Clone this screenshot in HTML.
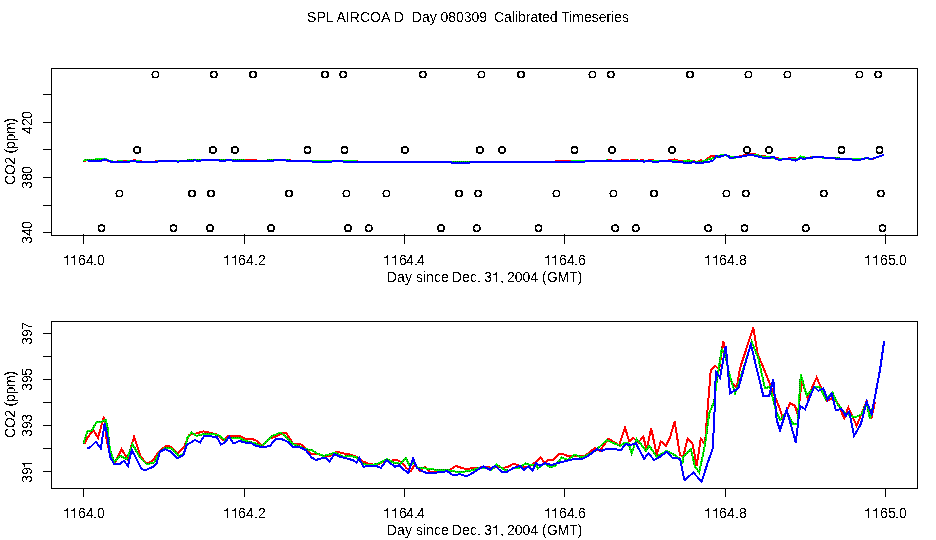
<!DOCTYPE html>
<html><head><meta charset="utf-8"><style>
html,body{margin:0;padding:0;background:#fff;width:936px;height:540px;overflow:hidden}
svg{display:block}
text{font-family:"Liberation Sans",sans-serif;font-size:14px;fill:#000;white-space:pre}
</style></head><body>
<svg width="936" height="540" viewBox="0 0 936 540" shape-rendering="crispEdges">
<defs><pattern id="gp" patternUnits="userSpaceOnUse" x="0" y="0" width="2" height="2"><rect x="0" y="0" width="2" height="2" fill="#00ff00"/><rect x="1" y="1" width="1" height="1" fill="#006000"/></pattern><filter id="th" x="0" y="0" width="936" height="540" filterUnits="userSpaceOnUse" color-interpolation-filters="sRGB"><feComponentTransfer><feFuncA type="discrete" tableValues="0 1"/></feComponentTransfer></filter></defs>
<rect x="51.5" y="68.5" width="866" height="167" fill="none" stroke="#000" stroke-width="1"/>
<line x1="43" y1="94.5" x2="51" y2="94.5" stroke="#000"/>
<line x1="43" y1="122.5" x2="51" y2="122.5" stroke="#000"/>
<line x1="43" y1="149.5" x2="51" y2="149.5" stroke="#000"/>
<line x1="43" y1="177.5" x2="51" y2="177.5" stroke="#000"/>
<line x1="43" y1="205.5" x2="51" y2="205.5" stroke="#000"/>
<line x1="43" y1="232.5" x2="51" y2="232.5" stroke="#000"/>
<line x1="83.5" y1="234" x2="83.5" y2="244" stroke="#000"/>
<path d="M67,255h1v10h-1z M66,256h1v1h-1z M64,257h3v1h-3z" fill="#000" shape-rendering="crispEdges"/>
<path d="M74,255h1v10h-1z M73,256h1v1h-1z M71,257h3v1h-3z" fill="#000" shape-rendering="crispEdges"/>
<line x1="244.5" y1="234" x2="244.5" y2="244" stroke="#000"/>
<path d="M227,255h1v10h-1z M226,256h1v1h-1z M224,257h3v1h-3z" fill="#000" shape-rendering="crispEdges"/>
<path d="M235,255h1v10h-1z M234,256h1v1h-1z M232,257h3v1h-3z" fill="#000" shape-rendering="crispEdges"/>
<line x1="404.5" y1="234" x2="404.5" y2="244" stroke="#000"/>
<path d="M387,255h1v10h-1z M386,256h1v1h-1z M384,257h3v1h-3z" fill="#000" shape-rendering="crispEdges"/>
<path d="M395,255h1v10h-1z M394,256h1v1h-1z M392,257h3v1h-3z" fill="#000" shape-rendering="crispEdges"/>
<line x1="564.5" y1="234" x2="564.5" y2="244" stroke="#000"/>
<path d="M548,255h1v10h-1z M547,256h1v1h-1z M545,257h3v1h-3z" fill="#000" shape-rendering="crispEdges"/>
<path d="M555,255h1v10h-1z M554,256h1v1h-1z M552,257h3v1h-3z" fill="#000" shape-rendering="crispEdges"/>
<line x1="725.5" y1="234" x2="725.5" y2="244" stroke="#000"/>
<path d="M708,255h1v10h-1z M707,256h1v1h-1z M705,257h3v1h-3z" fill="#000" shape-rendering="crispEdges"/>
<path d="M716,255h1v10h-1z M715,256h1v1h-1z M713,257h3v1h-3z" fill="#000" shape-rendering="crispEdges"/>
<line x1="885.5" y1="234" x2="885.5" y2="244" stroke="#000"/>
<path d="M868,255h1v10h-1z M867,256h1v1h-1z M865,257h3v1h-3z" fill="#000" shape-rendering="crispEdges"/>
<path d="M876,255h1v10h-1z M875,256h1v1h-1z M873,257h3v1h-3z" fill="#000" shape-rendering="crispEdges"/>
<path d="M496,272h1v10h-1z M495,273h1v1h-1z M493,274h3v1h-3z" fill="#000"/>
<rect x="51.5" y="321.5" width="866" height="167" fill="none" stroke="#000" stroke-width="1"/>
<line x1="43" y1="333.5" x2="51" y2="333.5" stroke="#000"/>
<line x1="43" y1="356.5" x2="51" y2="356.5" stroke="#000"/>
<line x1="43" y1="379.5" x2="51" y2="379.5" stroke="#000"/>
<line x1="43" y1="402.5" x2="51" y2="402.5" stroke="#000"/>
<line x1="43" y1="425.5" x2="51" y2="425.5" stroke="#000"/>
<line x1="43" y1="448.5" x2="51" y2="448.5" stroke="#000"/>
<line x1="43" y1="471.5" x2="51" y2="471.5" stroke="#000"/>
<path d="M22,463h10v1h-10z M23,464h1v1h-1z M24,464h1v3h-1z" fill="#000"/>
<line x1="83.5" y1="488" x2="83.5" y2="497" stroke="#000"/>
<path d="M67,508h1v10h-1z M66,509h1v1h-1z M64,510h3v1h-3z" fill="#000" shape-rendering="crispEdges"/>
<path d="M74,508h1v10h-1z M73,509h1v1h-1z M71,510h3v1h-3z" fill="#000" shape-rendering="crispEdges"/>
<line x1="244.5" y1="488" x2="244.5" y2="497" stroke="#000"/>
<path d="M227,508h1v10h-1z M226,509h1v1h-1z M224,510h3v1h-3z" fill="#000" shape-rendering="crispEdges"/>
<path d="M235,508h1v10h-1z M234,509h1v1h-1z M232,510h3v1h-3z" fill="#000" shape-rendering="crispEdges"/>
<line x1="404.5" y1="488" x2="404.5" y2="497" stroke="#000"/>
<path d="M387,508h1v10h-1z M386,509h1v1h-1z M384,510h3v1h-3z" fill="#000" shape-rendering="crispEdges"/>
<path d="M395,508h1v10h-1z M394,509h1v1h-1z M392,510h3v1h-3z" fill="#000" shape-rendering="crispEdges"/>
<line x1="564.5" y1="488" x2="564.5" y2="497" stroke="#000"/>
<path d="M548,508h1v10h-1z M547,509h1v1h-1z M545,510h3v1h-3z" fill="#000" shape-rendering="crispEdges"/>
<path d="M555,508h1v10h-1z M554,509h1v1h-1z M552,510h3v1h-3z" fill="#000" shape-rendering="crispEdges"/>
<line x1="725.5" y1="488" x2="725.5" y2="497" stroke="#000"/>
<path d="M708,508h1v10h-1z M707,509h1v1h-1z M705,510h3v1h-3z" fill="#000" shape-rendering="crispEdges"/>
<path d="M716,508h1v10h-1z M715,509h1v1h-1z M713,510h3v1h-3z" fill="#000" shape-rendering="crispEdges"/>
<line x1="885.5" y1="488" x2="885.5" y2="497" stroke="#000"/>
<path d="M868,508h1v10h-1z M867,509h1v1h-1z M865,510h3v1h-3z" fill="#000" shape-rendering="crispEdges"/>
<path d="M876,508h1v10h-1z M875,509h1v1h-1z M873,510h3v1h-3z" fill="#000" shape-rendering="crispEdges"/>
<path d="M496,525h1v10h-1z M495,526h1v1h-1z M493,527h3v1h-3z" fill="#000"/>
<circle cx="155.5" cy="74.5" r="3.2" fill="none" stroke="#000" stroke-width="1.6"/>
<circle cx="213.75" cy="74.5" r="3.2" fill="none" stroke="#000" stroke-width="1.6"/>
<circle cx="253" cy="74.5" r="3.2" fill="none" stroke="#000" stroke-width="1.6"/>
<circle cx="325" cy="74.5" r="3.2" fill="none" stroke="#000" stroke-width="1.6"/>
<circle cx="343.25" cy="74.5" r="3.2" fill="none" stroke="#000" stroke-width="1.6"/>
<circle cx="422.75" cy="74.5" r="3.2" fill="none" stroke="#000" stroke-width="1.6"/>
<circle cx="481.5" cy="74.5" r="3.2" fill="none" stroke="#000" stroke-width="1.6"/>
<circle cx="521" cy="74.5" r="3.2" fill="none" stroke="#000" stroke-width="1.6"/>
<circle cx="592.5" cy="74.5" r="3.2" fill="none" stroke="#000" stroke-width="1.6"/>
<circle cx="610.75" cy="74.5" r="3.2" fill="none" stroke="#000" stroke-width="1.6"/>
<circle cx="690" cy="74.5" r="3.2" fill="none" stroke="#000" stroke-width="1.6"/>
<circle cx="748.5" cy="74.5" r="3.2" fill="none" stroke="#000" stroke-width="1.6"/>
<circle cx="787.5" cy="74.5" r="3.2" fill="none" stroke="#000" stroke-width="1.6"/>
<circle cx="859.5" cy="74.5" r="3.2" fill="none" stroke="#000" stroke-width="1.6"/>
<circle cx="878.25" cy="74.5" r="3.2" fill="none" stroke="#000" stroke-width="1.6"/>
<circle cx="137.25" cy="150" r="3.2" fill="none" stroke="#000" stroke-width="1.6"/>
<circle cx="212.75" cy="150" r="3.2" fill="none" stroke="#000" stroke-width="1.6"/>
<circle cx="234.75" cy="150" r="3.2" fill="none" stroke="#000" stroke-width="1.6"/>
<circle cx="307.5" cy="150" r="3.2" fill="none" stroke="#000" stroke-width="1.6"/>
<circle cx="344.5" cy="150" r="3.2" fill="none" stroke="#000" stroke-width="1.6"/>
<circle cx="404.75" cy="150" r="3.2" fill="none" stroke="#000" stroke-width="1.6"/>
<circle cx="479.75" cy="150" r="3.2" fill="none" stroke="#000" stroke-width="1.6"/>
<circle cx="502" cy="150" r="3.2" fill="none" stroke="#000" stroke-width="1.6"/>
<circle cx="574.5" cy="150" r="3.2" fill="none" stroke="#000" stroke-width="1.6"/>
<circle cx="612" cy="150" r="3.2" fill="none" stroke="#000" stroke-width="1.6"/>
<circle cx="672" cy="150" r="3.2" fill="none" stroke="#000" stroke-width="1.6"/>
<circle cx="747" cy="150" r="3.2" fill="none" stroke="#000" stroke-width="1.6"/>
<circle cx="769" cy="150" r="3.2" fill="none" stroke="#000" stroke-width="1.6"/>
<circle cx="841.5" cy="150" r="3.2" fill="none" stroke="#000" stroke-width="1.6"/>
<circle cx="879.5" cy="150" r="3.2" fill="none" stroke="#000" stroke-width="1.6"/>
<circle cx="119.5" cy="193.5" r="3.2" fill="none" stroke="#000" stroke-width="1.6"/>
<circle cx="192" cy="193.5" r="3.2" fill="none" stroke="#000" stroke-width="1.6"/>
<circle cx="211" cy="193.5" r="3.2" fill="none" stroke="#000" stroke-width="1.6"/>
<circle cx="289" cy="193.5" r="3.2" fill="none" stroke="#000" stroke-width="1.6"/>
<circle cx="346.5" cy="193.5" r="3.2" fill="none" stroke="#000" stroke-width="1.6"/>
<circle cx="386.5" cy="193.5" r="3.2" fill="none" stroke="#000" stroke-width="1.6"/>
<circle cx="459" cy="193.5" r="3.2" fill="none" stroke="#000" stroke-width="1.6"/>
<circle cx="478.25" cy="193.5" r="3.2" fill="none" stroke="#000" stroke-width="1.6"/>
<circle cx="556.5" cy="193.5" r="3.2" fill="none" stroke="#000" stroke-width="1.6"/>
<circle cx="613.5" cy="193.5" r="3.2" fill="none" stroke="#000" stroke-width="1.6"/>
<circle cx="654" cy="193.5" r="3.2" fill="none" stroke="#000" stroke-width="1.6"/>
<circle cx="726.5" cy="193.5" r="3.2" fill="none" stroke="#000" stroke-width="1.6"/>
<circle cx="745.75" cy="193.5" r="3.2" fill="none" stroke="#000" stroke-width="1.6"/>
<circle cx="823.75" cy="193.5" r="3.2" fill="none" stroke="#000" stroke-width="1.6"/>
<circle cx="880.75" cy="193.5" r="3.2" fill="none" stroke="#000" stroke-width="1.6"/>
<circle cx="101.5" cy="228.25" r="3.2" fill="none" stroke="#000" stroke-width="1.6"/>
<circle cx="173.5" cy="228.25" r="3.2" fill="none" stroke="#000" stroke-width="1.6"/>
<circle cx="210" cy="228.25" r="3.2" fill="none" stroke="#000" stroke-width="1.6"/>
<circle cx="271" cy="228.25" r="3.2" fill="none" stroke="#000" stroke-width="1.6"/>
<circle cx="348" cy="228.25" r="3.2" fill="none" stroke="#000" stroke-width="1.6"/>
<circle cx="368.75" cy="228.25" r="3.2" fill="none" stroke="#000" stroke-width="1.6"/>
<circle cx="441" cy="228.25" r="3.2" fill="none" stroke="#000" stroke-width="1.6"/>
<circle cx="476.75" cy="228.25" r="3.2" fill="none" stroke="#000" stroke-width="1.6"/>
<circle cx="538.5" cy="228.25" r="3.2" fill="none" stroke="#000" stroke-width="1.6"/>
<circle cx="615.25" cy="228.25" r="3.2" fill="none" stroke="#000" stroke-width="1.6"/>
<circle cx="635.75" cy="228.25" r="3.2" fill="none" stroke="#000" stroke-width="1.6"/>
<circle cx="708.25" cy="228.25" r="3.2" fill="none" stroke="#000" stroke-width="1.6"/>
<circle cx="744.5" cy="228.25" r="3.2" fill="none" stroke="#000" stroke-width="1.6"/>
<circle cx="805.75" cy="228.25" r="3.2" fill="none" stroke="#000" stroke-width="1.6"/>
<circle cx="882.5" cy="228.25" r="3.2" fill="none" stroke="#000" stroke-width="1.6"/>
<path d="M84.17,444.17 L87.5,437.5 L93.33,430 L98,438 L103.83,416.67 L106.67,440 L110,453.33 L115,462.5 L121.67,449.17 L127.5,459.17 L134.17,436.67 L140.83,456.67 L146.67,464.17 L153.33,460 L158.33,452.5 L165.83,445.83 L170.83,446.67 L177.5,453.33 L184.17,446.67 L189.17,435 L196.67,433.33 L203.33,431.33 L209.17,432.5 L218.33,435 L223.33,440 L228.33,435.5 L236,435.5 L240,435.83 L246.67,439.67 L251.67,438.67 L256.67,440.83 L262.5,445.83 L268.33,439.17 L273.33,437.5 L280,434.17 L285.83,432.5 L293.33,444.17 L300,443.67 L305,447.5 L311.67,454.17 L318.33,454.17 L324.17,455.83 L330,455.83 L336.67,451.67 L343.33,453.33 L350,454.5 L356.67,456.67 L363.33,461.67 L370,464.17 L376.67,465 L381.67,462.5 L386,460.33 L390,460.83 L396.67,459.67 L401.67,462.5 L406.67,468.33 L410.83,471.33 L415,464.17 L420,470.83 L425,467 L430,471.67 L436.67,472 L443.33,470.83 L448.33,471.33 L455.83,465.83 L461.67,468 L467.5,469.17 L473.33,467.5 L480,467.5 L486.67,466.67 L493.33,468.33 L496.67,466.67 L503.33,468 L508.33,466.67 L513.33,463.67 L518.33,465.33 L523.33,467.5 L528.33,466.67 L533.33,463.67 L536,461.67 L540.83,457.5 L545,463.33 L548.33,459.67 L553.33,459.67 L559.17,453.67 L563.33,454.17 L568.33,456.33 L575,455.83 L585,455.83 L595,448 L600,450.83 L608.33,438.67 L613.33,441.67 L619.17,445.33 L625,427.5 L629.17,441.33 L633.33,438 L638.33,442.5 L643.33,436.67 L646.67,450 L651.17,428 L656.67,455 L660.83,441.33 L665.83,445.83 L670,437.5 L674.67,421.67 L680,455 L683.3,456.7 L687.5,438.7 L692.5,443.7 L696.7,465.8 L700.8,438.7 L705,444.7 L706.7,420 L710.8,370 L715,365.8 L719.2,369.2 L723.3,340.8 L730,380 L736.7,388.3 L740,368.3 L753.3,327.5 L757.5,353.3 L770,384.2 L775,396.7 L780,409.17 L783.33,419.17 L790,403.33 L795,405.83 L798,415.83 L801.67,380.83 L807.5,397.5 L816.67,377.5 L826.67,400.83 L833.33,397.5 L838.33,404.17 L844.17,418.33 L848.33,407.5 L856.67,425.83 L866.67,400.83 L871.33,418.33 L875,401.67" fill="none" stroke="#ff0000" stroke-width="2"/>
<path d="M84.17,160.71 L87.5,160.31 L93.33,159.86 L98,160.34 L103.83,159.06 L106.67,160.46 L110,161.26 L115,161.81 L121.67,161.01 L127.5,161.61 L134.17,160.26 L140.83,161.46 L146.67,161.91 L153.33,161.66 L158.33,161.21 L165.83,160.81 L170.83,160.86 L177.5,161.26 L184.17,160.86 L189.17,160.16 L196.67,160.06 L203.33,159.94 L209.17,160.01 L218.33,160.16 L223.33,160.46 L228.33,160.19 L236,160.19 L240,160.21 L246.67,160.44 L251.67,160.38 L256.67,160.51 L262.5,160.81 L268.33,160.41 L273.33,160.31 L280,160.11 L285.83,160.01 L293.33,160.71 L300,160.68 L305,160.91 L311.67,161.31 L318.33,161.31 L324.17,161.41 L330,161.41 L336.67,161.16 L343.33,161.26 L350,161.33 L356.67,161.46 L363.33,161.76 L370,161.91 L376.67,161.96 L381.67,161.81 L386,161.68 L390,161.71 L396.67,161.64 L401.67,161.81 L406.67,162.16 L410.83,162.34 L415,161.91 L420,162.31 L425,162.08 L430,162.36 L436.67,162.38 L443.33,162.31 L448.33,162.34 L455.83,162.01 L461.67,162.14 L467.5,162.21 L473.33,162.11 L480,162.11 L486.67,162.06 L493.33,162.16 L496.67,162.06 L503.33,162.14 L508.33,162.06 L513.33,161.88 L518.33,161.98 L523.33,162.11 L528.33,162.06 L533.33,161.88 L536,161.76 L540.83,161.51 L545,161.86 L548.33,161.64 L553.33,161.64 L559.17,161.28 L563.33,161.31 L568.33,161.44 L575,161.41 L585,161.41 L595,160.94 L600,161.11 L608.33,160.38 L613.33,160.56 L619.17,160.78 L625,159.71 L629.17,160.54 L633.33,160.34 L638.33,160.61 L643.33,160.26 L646.67,161.06 L651.17,159.74 L656.67,161.36 L660.83,160.54 L665.83,160.81 L670,160.31 L674.67,159.36 L680,161.36 L683.3,161.46 L687.5,160.38 L692.5,160.68 L696.7,162.01 L700.8,160.38 L705,160.74 L706.7,159.26 L710.8,156.26 L715,156.01 L719.2,156.21 L723.3,154.51 L730,156.86 L736.7,157.36 L740,156.16 L753.3,153.71 L757.5,155.26 L770,157.11 L775,157.86 L780,158.61 L783.33,159.21 L790,158.26 L795,158.41 L798,159.01 L801.67,156.91 L807.5,157.91 L816.67,156.71 L826.67,158.11 L833.33,157.91 L838.33,158.31 L844.17,159.16 L848.33,158.51 L856.67,159.61 L866.67,158.11 L871.33,159.16 L875,158.16" fill="none" stroke="#ff0000" stroke-width="2"/>
<path d="M83.33,443.67 L87.5,430.83 L91.67,430.83 L96.67,421.67 L101.67,421.67 L105.83,420 L107.5,427.5 L110,450 L114.17,461.67 L120,455.83 L126.67,459.17 L132.5,444.17 L140,457.5 L146.67,464.17 L154.17,462.5 L160,451.67 L165,448.33 L170.83,448.33 L179.17,455.83 L184.17,453.33 L187.5,437.5 L191.67,432.5 L196.67,435.83 L203.33,434.17 L213.33,434.17 L218.33,435 L225,440 L230,437.5 L236,438.33 L240,438.33 L246.67,441.33 L255,443.33 L261.67,445.83 L272.5,435.83 L280.83,432.5 L288.33,439.17 L293.33,444.17 L300,446.67 L305,449.17 L311.67,450 L316.67,453.33 L323.33,455.83 L330,454.17 L335,452.5 L343.33,456.67 L350,455.83 L356.67,457.5 L363.33,464.17 L370,465 L376.67,464.17 L381.67,462 L386,459.67 L386.67,459.17 L393.33,462.5 L400,463.67 L405.83,458.33 L410,466.67 L413.33,461.67 L418.33,468.33 L425,468.33 L431.67,469.17 L438.33,470 L448.33,470 L453.33,471.33 L460,472 L466.67,471.33 L473.33,470 L480,467.5 L486.67,467.5 L490.83,470 L496.67,464.67 L503.33,469.17 L508.33,470.83 L513.33,468.33 L520,467.5 L525.83,463.33 L530,465 L536,464.67 L538,468.33 L544.17,463.33 L550.83,467.5 L555,465.83 L561.67,457.5 L567.5,460 L575,454.67 L581.67,457.5 L589.17,454.17 L596.67,449.67 L606.67,440 L613.33,443 L620,445.83 L625,442.5 L628.33,443 L631.67,453 L636.67,439.17 L640.83,444.17 L645.83,450.83 L649.17,445.83 L656.67,456.67 L666.67,450.83 L673.33,454.17 L679.17,458.33 L682.5,462.5 L683.3,456.7 L690.8,449.2 L695,466.7 L699.2,472.5 L705,445 L709.2,413.3 L714.2,401.7 L716.7,381.7 L721.7,349.2 L725,353.3 L728.3,370 L735,393.3 L738.3,385 L751.7,341.7 L758.3,358.3 L765,388.3 L770,386.7 L775.8,410 L780,420 L786.67,411.67 L793.33,424.17 L797.5,423.33 L800.83,374.17 L806.67,395.83 L815,386.67 L820,387.5 L825.83,399.17 L832.5,392.5 L837.5,404.17 L845,413.33 L855,417.5 L861.67,414.17 L866.67,402.5 L870,419.17 L873.33,405" fill="none" stroke="url(#gp)" stroke-width="2"/>
<path d="M83.33,160.68 L87.5,159.91 L91.67,159.91 L96.67,159.36 L101.67,159.36 L105.83,159.26 L107.5,159.71 L110,161.06 L114.17,161.76 L120,161.41 L126.67,161.61 L132.5,160.71 L140,161.51 L146.67,161.91 L154.17,161.81 L160,161.16 L165,160.96 L170.83,160.96 L179.17,161.41 L184.17,161.26 L187.5,160.31 L191.67,160.01 L196.67,160.21 L203.33,160.11 L213.33,160.11 L218.33,160.16 L225,160.46 L230,160.31 L236,160.36 L240,160.36 L246.67,160.54 L255,160.66 L261.67,160.81 L272.5,160.21 L280.83,160.01 L288.33,160.41 L293.33,160.71 L300,160.86 L305,161.01 L311.67,161.06 L316.67,161.26 L323.33,161.41 L330,161.31 L335,161.21 L343.33,161.46 L350,161.41 L356.67,161.51 L363.33,161.91 L370,161.96 L376.67,161.91 L381.67,161.78 L386,161.64 L386.67,161.61 L393.33,161.81 L400,161.88 L405.83,161.56 L410,162.06 L413.33,161.76 L418.33,162.16 L425,162.16 L431.67,162.21 L438.33,162.26 L448.33,162.26 L453.33,162.34 L460,162.38 L466.67,162.34 L473.33,162.26 L480,162.11 L486.67,162.11 L490.83,162.26 L496.67,161.94 L503.33,162.21 L508.33,162.31 L513.33,162.16 L520,162.11 L525.83,161.86 L530,161.96 L536,161.94 L538,162.16 L544.17,161.86 L550.83,162.11 L555,162.01 L561.67,161.51 L567.5,161.66 L575,161.34 L581.67,161.51 L589.17,161.31 L596.67,161.04 L606.67,160.46 L613.33,160.64 L620,160.81 L625,160.61 L628.33,160.64 L631.67,161.24 L636.67,160.41 L640.83,160.71 L645.83,161.11 L649.17,160.81 L656.67,161.46 L666.67,161.11 L673.33,161.31 L679.17,161.56 L682.5,161.81 L683.3,161.46 L690.8,161.01 L695,162.06 L699.2,162.41 L705,160.76 L709.2,158.86 L714.2,158.16 L716.7,156.96 L721.7,155.01 L725,155.26 L728.3,156.26 L735,157.66 L738.3,157.16 L751.7,154.56 L758.3,155.56 L765,157.36 L770,157.26 L775.8,158.66 L780,159.26 L786.67,158.76 L793.33,159.51 L797.5,159.46 L800.83,156.51 L806.67,157.81 L815,157.26 L820,157.31 L825.83,158.01 L832.5,157.61 L837.5,158.31 L845,158.86 L855,159.11 L861.67,158.91 L866.67,158.21 L870,159.21 L873.33,158.36" fill="none" stroke="url(#gp)" stroke-width="2"/>
<path d="M87.5,448.67 L90.83,446.67 L95.83,441.67 L100.83,448.33 L104.67,423.33 L107.5,436.67 L110,456.67 L114.17,464.17 L120,464.17 L123.67,460.83 L128,465.83 L131.67,450 L136.67,459.17 L141.67,469.17 L145.83,470 L153.33,466.67 L156.67,463.33 L160,451.67 L165,449.17 L170.83,451.67 L177.5,458.33 L183.33,455 L186.67,445 L195,440 L200,442.5 L204.17,435.83 L213.33,436.67 L216.67,436.67 L220.83,444.67 L225,442.5 L229.17,436.67 L233.33,443.33 L236,442.5 L239.17,440.83 L245,442.5 L251.67,443.33 L256.67,446.33 L265,447 L270,445.83 L275.83,438.67 L281.67,439.17 L287.5,441.67 L293,447 L300,447.5 L305.83,450 L311.67,457.5 L315.83,460 L321.67,458.33 L326.67,458.33 L329.5,461.67 L334.17,454.17 L340.83,457 L346.67,458.33 L353.33,460.33 L356.67,462.5 L359.17,458 L363.33,466.67 L371.67,465.83 L376.67,466.17 L380.83,467.83 L386,460.83 L386.67,460.33 L395,466.67 L399.17,465.33 L404.17,470 L408.33,473 L413,458.33 L416.67,467.5 L421.67,470.83 L426.67,473 L433.33,473 L440,472 L447.5,471.33 L453.33,475.33 L460,474.17 L466.67,476.33 L473.33,472.5 L483.33,466.33 L490,469.67 L495,465.83 L502.5,472.5 L506.67,472 L513.33,468 L520,465.83 L524.17,470 L528.33,466.33 L532.5,470.83 L536,463.33 L540,465.83 L545,463.33 L551.67,465 L556.67,463.33 L563.33,461.67 L573.33,459.17 L581.67,459.17 L588.33,455.83 L596.67,449.17 L601.67,450.83 L606.67,448.67 L615,449.17 L620.83,450 L625.83,444.17 L630,445 L635.83,443.33 L644.17,458.67 L648.33,453.33 L654.17,460 L660,456.67 L666.67,451.67 L672.5,458 L680,458.67 L684.17,479.67 L685,480 L693.3,472.5 L701.7,481.7 L707.5,463.3 L712.5,449.2 L714.2,421.7 L715.8,371.7 L720,377.5 L725.8,345.8 L730,393.3 L738.3,388.3 L750.8,344.2 L763.3,395.8 L769.2,395.8 L773.3,379.2 L776.7,420 L780,430 L786.67,410 L795.83,442.5 L800,405.83 L805,409.17 L814.17,386.67 L818.33,390.83 L823.33,388.33 L827.5,400 L831.67,393.33 L835.83,410 L841.67,409.17 L845.83,415.83 L849.17,411.67 L854.17,435.83 L860.83,424.17 L866.67,401.67 L871.67,414.17 L880,370 L884.17,340.83" fill="none" stroke="#0000ff" stroke-width="2"/>
<path d="M87.5,160.98 L90.83,160.86 L95.83,160.56 L100.83,160.96 L104.67,159.46 L107.5,160.26 L110,161.46 L114.17,161.91 L120,161.91 L123.67,161.71 L128,162.01 L131.67,161.06 L136.67,161.61 L141.67,162.21 L145.83,162.26 L153.33,162.06 L156.67,161.86 L160,161.16 L165,161.01 L170.83,161.16 L177.5,161.56 L183.33,161.36 L186.67,160.76 L195,160.46 L200,160.61 L204.17,160.21 L213.33,160.26 L216.67,160.26 L220.83,160.74 L225,160.61 L229.17,160.26 L233.33,160.66 L236,160.61 L239.17,160.51 L245,160.61 L251.67,160.66 L256.67,160.84 L265,160.88 L270,160.81 L275.83,160.38 L281.67,160.41 L287.5,160.56 L293,160.88 L300,160.91 L305.83,161.06 L311.67,161.51 L315.83,161.66 L321.67,161.56 L326.67,161.56 L329.5,161.76 L334.17,161.31 L340.83,161.48 L346.67,161.56 L353.33,161.68 L356.67,161.81 L359.17,161.54 L363.33,162.06 L371.67,162.01 L376.67,162.03 L380.83,162.13 L386,161.71 L386.67,161.68 L395,162.06 L399.17,161.98 L404.17,162.26 L408.33,162.44 L413,161.56 L416.67,162.11 L421.67,162.31 L426.67,162.44 L433.33,162.44 L440,162.38 L447.5,162.34 L453.33,162.58 L460,162.51 L466.67,162.64 L473.33,162.41 L483.33,162.04 L490,162.24 L495,162.01 L502.5,162.41 L506.67,162.38 L513.33,162.14 L520,162.01 L524.17,162.26 L528.33,162.04 L532.5,162.31 L536,161.86 L540,162.01 L545,161.86 L551.67,161.96 L556.67,161.86 L563.33,161.76 L573.33,161.61 L581.67,161.61 L588.33,161.41 L596.67,161.01 L601.67,161.11 L606.67,160.98 L615,161.01 L620.83,161.06 L625.83,160.71 L630,160.76 L635.83,160.66 L644.17,161.58 L648.33,161.26 L654.17,161.66 L660,161.46 L666.67,161.16 L672.5,161.54 L680,161.58 L684.17,162.84 L685,162.86 L693.3,162.41 L701.7,162.96 L707.5,161.86 L712.5,161.01 L714.2,159.36 L715.8,156.36 L720,156.71 L725.8,154.81 L730,157.66 L738.3,157.36 L750.8,154.71 L763.3,157.81 L769.2,157.81 L773.3,156.81 L776.7,159.26 L780,159.86 L786.67,158.66 L795.83,160.61 L800,158.41 L805,158.61 L814.17,157.26 L818.33,157.51 L823.33,157.36 L827.5,158.06 L831.67,157.66 L835.83,158.66 L841.67,158.61 L845.83,159.01 L849.17,158.76 L854.17,160.21 L860.83,159.51 L866.67,158.16 L871.67,158.91 L880,156.26 L884.17,154.51" fill="none" stroke="#0000ff" stroke-width="2"/>
<g filter="url(#th)">
<text x="307" y="21.8" textLength="97" lengthAdjust="spacing">SPL AIRCOA D</text>
<text x="412" y="21.8" textLength="75" lengthAdjust="spacing">Day 080309</text>
<text x="494" y="21.8" textLength="135" lengthAdjust="spacing">Calibrated Timeseries</text>
<text transform="translate(32,244) rotate(-90)" x="0 8 15">340</text>
<text transform="translate(32,189) rotate(-90)" x="0 8 15">380</text>
<text transform="translate(32,134) rotate(-90)" x="0 8 15">420</text>
<text transform="translate(14.8,151.5) rotate(-90)" text-anchor="middle" textLength="67" lengthAdjust="spacing">CO2 (ppm)</text>
<text x="78 86 93 97" y="265">64.0</text>
<text x="238 246 254 258" y="265">64.2</text>
<text x="399 406 414 417" y="265">64.4</text>
<text x="559 567 574 578" y="265">64.6</text>
<text x="719 727 735 739" y="265">64.8</text>
<text x="880 888 895 899" y="265">65.0</text>
<text x="387" y="282">Day</text>
<text x="416" y="282">since</text>
<text x="452" y="282">Dec.</text>
<text x="484" y="282">3</text>
<text x="500" y="282">,</text>
<text x="507" y="282">2004</text>
<text x="542" y="282">(GMT)</text>
<text transform="translate(32,483) rotate(-90)" x="0 8">39</text>
<text transform="translate(32,437) rotate(-90)" x="0 8 15">393</text>
<text transform="translate(32,391) rotate(-90)" x="0 8 15">395</text>
<text transform="translate(32,345) rotate(-90)" x="0 8 15">397</text>
<text transform="translate(14.8,404.5) rotate(-90)" text-anchor="middle" textLength="67" lengthAdjust="spacing">CO2 (ppm)</text>
<text x="78 86 93 97" y="518">64.0</text>
<text x="238 246 254 258" y="518">64.2</text>
<text x="399 406 414 417" y="518">64.4</text>
<text x="559 567 574 578" y="518">64.6</text>
<text x="719 727 735 739" y="518">64.8</text>
<text x="880 888 895 899" y="518">65.0</text>
<text x="387" y="535">Day</text>
<text x="416" y="535">since</text>
<text x="452" y="535">Dec.</text>
<text x="484" y="535">3</text>
<text x="500" y="535">,</text>
<text x="507" y="535">2004</text>
<text x="542" y="535">(GMT)</text>
</g>
</svg></body></html>
